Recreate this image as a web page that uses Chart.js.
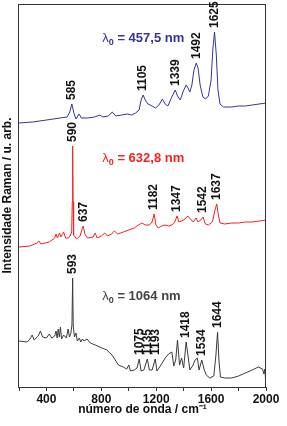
<!DOCTYPE html>
<html lang="pt">
<head>
<meta charset="UTF-8">
<title>Espectros Raman</title>
<script src="https://cdn.jsdelivr.net/npm/chart.js"></script>
<style>
    body { margin: 0; padding: 0; background: #fff; }
    #grafico { display: block; }
</style>
</head>
<body>
<canvas id="grafico" width="287" height="426"></canvas>
<script>
// espectro com excitação em 457,5 nm
const azulOnda = [200,300,400,500,550,570,585,600,615,637,655,700,750,790,810,850,880,905,950,990,1020,1050,1075,1090,1105,1120,1140,1170,1195,1220,1245,1265,1285,1310,1339,1355,1375,1395,1418,1432,1445,1460,1475,1492,1505,1520,1540,1560,1580,1600,1612,1625,1638,1650,1665,1690,1750,1800,1850,1900,1950,2000];
const azulInt = [264,265,267,269,270,275,283,274,268,273,269,269,270,272,270,271,275,271,272,273,272,274,277,287,292,287,283,281,279,282,288,283,281,289,297,291,287,295,302,299,295,302,317,324,319,302,290,288,291,307,337,355,332,297,283,280,280,281,281,282,283,284];

// espectro com excitação em 632,8 nm
const vermelhoOnda = [200,280,330,345,360,420,460,470,480,495,505,525,540,560,572,584,588,591,594,598,620,645,660,668,680,700,740,755,770,800,825,845,875,895,920,960,1000,1040,1070,1095,1120,1150,1170,1185,1198,1215,1240,1265,1290,1315,1335,1352,1365,1385,1410,1430,1450,1470,1490,1505,1525,1542,1558,1580,1610,1628,1641,1652,1665,1700,1750,1800,1850,1900,1950,2000];
const vermelhoInt = [140,141,144,146,143,145,149,153,149,154,150,155,149,149,151,155,185,241,185,152,148,151,158,161,153,149,150,154,149,151,154,151,153,156,153,155,157,159,162,164,162,162,165,173,162,159,161,162,161,162,165,171,165,166,168,171,168,165,169,165,167,170,163,162,165,177,183,173,164,163,164,164,165,165,166,167];

// espectro com excitação em 1064 nm
const pretoOnda = [200,260,280,296,310,340,356,372,400,420,440,460,470,478,486,494,502,510,525,545,558,568,578,586,591,595,604,615,625,640,650,662,675,696,720,756,805,840,878,924,960,985,1000,1012,1040,1060,1076,1090,1110,1135,1150,1170,1193,1205,1230,1265,1290,1314,1328,1342,1355,1370,1385,1400,1418,1432,1445,1465,1483,1500,1512,1532,1550,1565,1590,1620,1635,1647,1657,1668,1700,1750,1800,1850,1900,1944,1975,1985,1992,2000];
const pretoInt = [46,45,48,52,47,51,56,50,49,53,49,51,56,49,58,50,60,48,52,49,58,50,54,62,109,62,50,54,46,49,45,48,46,48,44,42,39,37,32,22,20,18,22,16,17,19,28,16,17,28,17,17,28,16,21,29,33,35,21,27,47,22,29,19,45,31,17,21,27,29,17,27,17,12,9,11,32,55,27,10,9,9,11,14,17,20,18,13,18,1];

// picos assinalados (texto e posição no eixo x)
const azulPicos = ['585','1105','1339','1492','1625'];
const azulPicosPos = [585,1105,1339,1492,1625];
const vermelhoPicos = ['590','637','1182','1347','1542','1637'];
const vermelhoPicosPos = [591,668,1185,1352,1542,1641];
const pretoPicos = ['593','1075','1135','1193','1418','1534','1644'];
const pretoPicosPos = [591,1076,1135,1193,1418,1532,1647];

const lambdas = ['457,5 nm','632,8 nm','1064 nm'];
const ticksX = [400,800,1200,1600,2000];

const fonte = '"Liberation Sans", Arial, sans-serif';

function pares(ondas, valores) {
    return ondas.map((o, i) => ({ x: o, y: valores[i] }));
}

function alturaPico(ondas, valores, pos) {
    let melhor = -Infinity;
    ondas.forEach((o, i) => {
        if (Math.abs(o - pos) <= 8) melhor = Math.max(melhor, valores[i]);
    });
    return melhor;
}

const grupos = [
    { textos: azulPicos, pos: azulPicosPos, ondas: azulOnda, valores: azulInt },
    { textos: vermelhoPicos, pos: vermelhoPicosPos, ondas: vermelhoOnda, valores: vermelhoInt },
    { textos: pretoPicos, pos: pretoPicosPos, ondas: pretoOnda, valores: pretoInt }
];

const rotulos = {
    id: 'rotulos',
    afterDatasetsDraw(chart) {
        const { ctx, chartArea: a, scales: { x, y } } = chart;
        ctx.save();

        // moldura do gráfico
        ctx.strokeStyle = '#333';
        ctx.lineWidth = 1;
        ctx.strokeRect(Math.round(a.left) - 0.5, Math.round(a.top) + 0.5,
            Math.round(a.right - a.left), Math.round(a.bottom - a.top));

        // números dos picos
        ctx.font = 'bold 12px ' + fonte;
        ctx.fillStyle = '#111';
        ctx.textAlign = 'left';
        ctx.textBaseline = 'middle';
        grupos.forEach(g => {
            g.textos.forEach((t, i) => {
                const px = x.getPixelForValue(g.pos[i]);
                const py = y.getPixelForValue(alturaPico(g.ondas, g.valores, g.pos[i])) - 4;
                ctx.save();
                ctx.translate(px, py);
                ctx.rotate(-Math.PI / 2);
                ctx.fillText(t, 0, 0);
                ctx.restore();
            });
        });

        // comprimentos de onda de excitação
        const cores = ['#33339f', '#f22222', '#444'];
        const alturas = [345, 225, 87];
        ctx.textBaseline = 'alphabetic';
        lambdas.forEach((texto, i) => {
            let px = x.getPixelForValue(807);
            const py = y.getPixelForValue(alturas[i]);
            ctx.fillStyle = cores[i];
            ctx.font = '13px ' + fonte;
            ctx.fillText('λ', px, py);
            px += ctx.measureText('λ').width;
            ctx.font = 'bold 9px ' + fonte;
            ctx.fillText('0', px, py + 3);
            px += ctx.measureText('0').width;
            ctx.font = 'bold 13px ' + fonte;
            ctx.fillText(' = ' + texto, px, py);
        });
        ctx.restore();
    }
};

new Chart(document.getElementById('grafico'), {
    type: 'line',
    data: {
        datasets: [
            { data: pares(pretoOnda, pretoInt), borderColor: '#3a3a3a' },
            { data: pares(vermelhoOnda, vermelhoInt), borderColor: '#f22222' },
            { data: pares(azulOnda, azulInt), borderColor: '#33339f' }
        ]
    },
    options: {
        responsive: false,
        animation: false,
        devicePixelRatio: 1,
        layout: { padding: { top: 4, right: 21, left: 0, bottom: 0 } },
        plugins: { legend: { display: false }, tooltip: { enabled: false } },
        elements: {
            point: { radius: 0 },
            line: { borderWidth: 1, tension: 0 }
        },
        scales: {
            x: {
                type: 'linear',
                min: 200,
                max: 2000,
                ticks: {
                    stepSize: 200,
                    autoSkip: false,
                    maxRotation: 0,
                    padding: 1,
                    color: '#111',
                    font: { family: fonte, size: 12, weight: 'bold' },
                    callback: v => ticksX.includes(v) ? v : ''
                },
                grid: { drawOnChartArea: false, tickLength: 4, color: '#333' },
                border: { display: false },
                title: {
                    display: true,
                    text: 'número de onda / cm⁻¹',
                    color: '#111',
                    font: { family: fonte, size: 12, weight: 'bold' },
                    padding: { top: 0, bottom: 9 }
                },
                afterFit: s => { s.height = 39; }
            },
            y: {
                min: 0,
                max: 383,
                ticks: { display: false },
                grid: { display: false },
                border: { display: false },
                title: {
                    display: true,
                    text: 'Intensidade Raman / u. arb.',
                    color: '#111',
                    font: { family: fonte, size: 12, weight: 'bold' },
                    padding: 0
                },
                afterFit: s => { s.width = 19; }
            }
        }
    },
    plugins: [rotulos]
});
</script>
</body>
</html>
